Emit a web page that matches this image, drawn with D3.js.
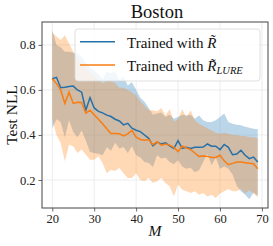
<!DOCTYPE html>
<html>
<head>
<meta charset="utf-8">
<script src="https://cdn.jsdelivr.net/npm/d3@7"></script>
<style>
  body { margin: 0; background: #fff; }
  text { font-family: "Liberation Serif", "Times New Roman", serif; }
</style>
</head>
<body>
<svg id="chart"></svg>
<script>
const M = d3.range(20, 70);

const rMean = [0.650, 0.656, 0.610, 0.612, 0.615, 0.617, 0.600, 0.590, 0.510, 0.566,
  0.520, 0.505, 0.498, 0.488, 0.482, 0.470, 0.462, 0.445, 0.452, 0.430,
  0.421, 0.415, 0.400, 0.385, 0.352, 0.368, 0.360, 0.365, 0.352, 0.340,
  0.375, 0.340, 0.345, 0.340, 0.345, 0.345, 0.346, 0.360, 0.350, 0.350,
  0.335, 0.358, 0.345, 0.312, 0.315, 0.332, 0.310, 0.295, 0.302, 0.280];
const rHi = [0.865, 0.800, 0.790, 0.770, 0.770, 0.765, 0.762, 0.748, 0.720, 0.700,
  0.685, 0.670, 0.650, 0.680, 0.675, 0.680, 0.645, 0.660, 0.620, 0.635,
  0.600, 0.565, 0.548, 0.520, 0.490, 0.495, 0.500, 0.480, 0.490, 0.472,
  0.480, 0.490, 0.487, 0.490, 0.472, 0.487, 0.465, 0.458, 0.458, 0.465,
  0.480, 0.495, 0.458, 0.450, 0.445, 0.443, 0.436, 0.432, 0.428, 0.425];
const rLo = [0.430, 0.470, 0.458, 0.390, 0.465, 0.413, 0.390, 0.420, 0.376, 0.324,
  0.320, 0.317, 0.310, 0.345, 0.330, 0.365, 0.340, 0.347, 0.320, 0.350,
  0.310, 0.300, 0.280, 0.275, 0.258, 0.310, 0.295, 0.300, 0.280, 0.270,
  0.288, 0.260, 0.250, 0.255, 0.235, 0.243, 0.280, 0.317, 0.265, 0.300,
  0.250, 0.260, 0.250, 0.225, 0.175, 0.150, 0.135, 0.115, 0.145, 0.130];

const lMean = [0.650, 0.628, 0.600, 0.540, 0.590, 0.540, 0.545, 0.544, 0.497, 0.510,
  0.490, 0.470, 0.450, 0.428, 0.407, 0.406, 0.405, 0.396, 0.405, 0.420,
  0.390, 0.380, 0.377, 0.380, 0.357, 0.370, 0.355, 0.360, 0.355, 0.345,
  0.326, 0.351, 0.342, 0.335, 0.320, 0.305, 0.307, 0.305, 0.300, 0.300,
  0.310, 0.285, 0.268, 0.274, 0.280, 0.280, 0.277, 0.274, 0.272, 0.250];
const lHi = [0.855, 0.837, 0.822, 0.843, 0.806, 0.770, 0.740, 0.720, 0.700, 0.680,
  0.660, 0.645, 0.630, 0.640, 0.640, 0.630, 0.610, 0.610, 0.600, 0.590,
  0.575, 0.550, 0.530, 0.510, 0.510, 0.505, 0.520, 0.487, 0.514, 0.460,
  0.470, 0.514, 0.480, 0.510, 0.465, 0.450, 0.440, 0.430, 0.420, 0.410,
  0.405, 0.410, 0.405, 0.400, 0.400, 0.395, 0.395, 0.390, 0.390, 0.385];
const lLo = [0.470, 0.400, 0.364, 0.283, 0.357, 0.350, 0.320, 0.335, 0.313, 0.290,
  0.290, 0.305, 0.275, 0.230, 0.246, 0.240, 0.253, 0.230, 0.209, 0.209,
  0.230, 0.200, 0.194, 0.209, 0.187, 0.194, 0.209, 0.187, 0.172, 0.127,
  0.180, 0.157, 0.150, 0.142, 0.150, 0.135, 0.142, 0.127, 0.135, 0.120,
  0.140, 0.150, 0.160, 0.150, 0.150, 0.160, 0.140, 0.155, 0.140, 0.125];

const xTicks = [20, 30, 40, 50, 60, 70];
const yTicks = [0.2, 0.4, 0.6, 0.8];

const width = 273, height = 246;
const margin = { top: 22, right: 5, bottom: 38, left: 42 };

const svg = d3.select('#chart').attr('width', width).attr('height', height);

const x = d3.scaleLinear().domain([17.55, 71.45]).range([margin.left, width - margin.right]);
const y = d3.scaleLinear().domain([0.0757, 0.9017]).range([height - margin.bottom, margin.top]);

// grid
const grid = svg.append('g');
grid.selectAll('.gx').data(xTicks).enter().append('line')
  .attr('x1', d => x(d)).attr('x2', d => x(d))
  .attr('y1', y.range()[0]).attr('y2', y.range()[1])
  .attr('stroke', '#e8e8e8').attr('stroke-width', 0.8);
grid.selectAll('.gy').data(yTicks).enter().append('line')
  .attr('y1', d => y(d)).attr('y2', d => y(d))
  .attr('x1', x.range()[0]).attr('x2', x.range()[1])
  .attr('stroke', '#e8e8e8').attr('stroke-width', 0.8);

const series = [
  { mean: rMean, lo: rLo, hi: rHi, color: '#1f77b4', lineColor: '#2570a8' },
  { mean: lMean, lo: lLo, hi: lHi, color: '#ff7f0e', lineColor: '#f97d10' }
];

const area = d3.area().x((d, i) => x(M[i])).y0(d => y(d[0])).y1(d => y(d[1]));
const line = d3.line().x((d, i) => x(M[i])).y(d => y(d));

// bands first, then mean lines on top
series.forEach(s => {
  svg.append('path')
    .datum(s.lo.map((v, i) => [v, s.hi[i]]))
    .attr('d', area)
    .attr('fill', s.color).attr('fill-opacity', 0.3);
});
series.forEach(s => {
  svg.append('path')
    .datum(s.mean)
    .attr('d', line)
    .attr('fill', 'none').attr('stroke', s.lineColor).attr('stroke-width', 1.5);
});

// axes
const xAxis = svg.append('g')
  .attr('transform', `translate(0,${height - margin.bottom})`)
  .call(d3.axisBottom(x).tickValues(xTicks).tickSize(3.5).tickPadding(3));
const yAxis = svg.append('g')
  .attr('transform', `translate(${margin.left},0)`)
  .call(d3.axisLeft(y).tickValues(yTicks).tickFormat(d3.format('.1f')).tickSize(3.5).tickPadding(3));
[xAxis, yAxis].forEach(a => {
  a.select('.domain').remove();
  a.selectAll('line').attr('stroke', '#444').attr('stroke-width', 0.8);
  a.selectAll('text').attr('font-size', 12.5).attr('fill', '#222')
    .style('font-family', '"Liberation Serif", serif');
});

// frame
svg.append('rect')
  .attr('x', margin.left).attr('y', margin.top)
  .attr('width', width - margin.left - margin.right)
  .attr('height', height - margin.top - margin.bottom)
  .attr('fill', 'none').attr('stroke', '#444').attr('stroke-width', 1);

// title and labels
svg.append('text').attr('x', 157).attr('y', 17.5).attr('text-anchor', 'middle')
  .attr('font-size', 18.5).attr('fill', '#111').text('Boston');
svg.append('text').attr('transform', `translate(17,${(margin.top + height - margin.bottom) / 2}) rotate(-90)`)
  .attr('text-anchor', 'middle').attr('font-size', 15.5).attr('fill', '#111').text('Test NLL');
svg.append('text').attr('x', x(44.5)).attr('y', 236).attr('text-anchor', 'middle')
  .attr('font-size', 15.5).attr('font-style', 'italic').attr('fill', '#111').text('M');

// legend
const lg = svg.append('g');
lg.append('rect').attr('x', 75).attr('y', 29).attr('width', 185).attr('height', 52)
  .attr('rx', 3).attr('fill', '#fff').attr('fill-opacity', 0.8)
  .attr('stroke', '#d8d8d8').attr('stroke-width', 0.8);
const rows = [
  { color: '#2570a8', sub: null, y: 41.7 },
  { color: '#f97d10', sub: 'LURE', y: 65 }
];
rows.forEach(r => {
  lg.append('line').attr('x1', 80).attr('x2', 115).attr('y1', r.y).attr('y2', r.y)
    .attr('stroke', r.color).attr('stroke-width', 1.5);
  const t = lg.append('text').attr('x', 127).attr('y', r.y + 6).attr('font-size', 15).attr('fill', '#111');
  t.append('tspan').text('Trained with ');
  t.append('tspan').attr('font-style', 'italic').text('R\u0303');
  if (r.sub) {
    t.append('tspan').attr('font-style', 'italic').attr('font-size', 10.5).attr('dy', 3).text(r.sub);
  }
});
</script>
</body>
</html>
